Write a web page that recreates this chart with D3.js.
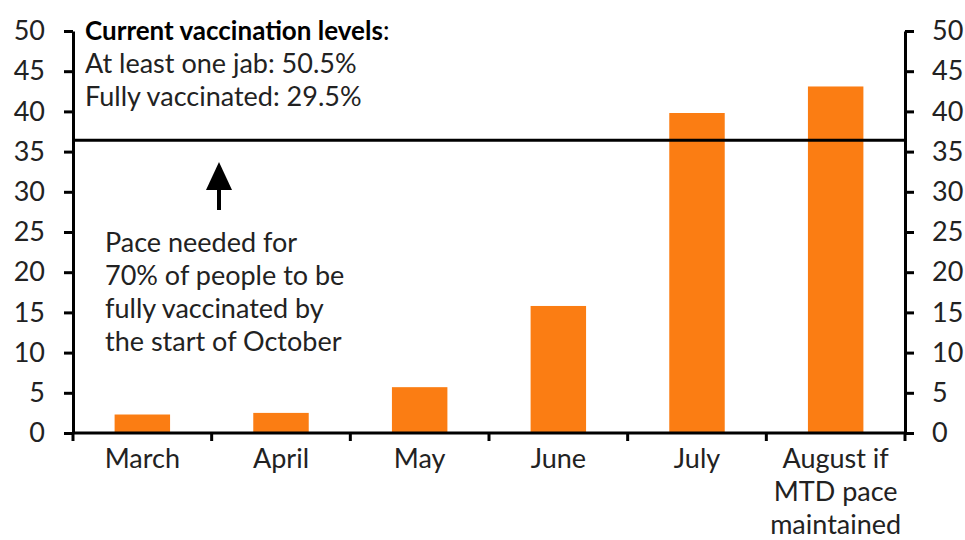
<!DOCTYPE html>
<html><head><meta charset="utf-8">
<script src="https://cdn.jsdelivr.net/npm/d3@7"></script>
<style>body{margin:0;background:#fff;} svg{display:block;} text{font-family:Lato, "Open Sans", sans-serif;}</style>
</head><body>
<svg id="c" width="965" height="540"></svg>
<script>
const categories = ["March","April","May","June","July","August if\nMTD pace\nmaintained"];
const values = [2.3, 2.5, 5.7, 15.8, 39.8, 43.1];
const yTicks = [0,5,10,15,20,25,30,35,40,45,50];
const paceNeeded = 36.4;
const noteTitle = "Current vaccination levels";
const noteLines = ["At least one jab: 50.5%","Fully vaccinated: 29.5%"];
const paceLines = ["Pace needed for","70% of people to be","fully vaccinated by","the start of October"];

const svg = d3.select("#c");
const m = {l:73, r:905, t:31, b:433};
const x = d3.scaleBand().domain(categories).range([m.l, m.r]).paddingInner(0.6).paddingOuter(0.3);
const y = d3.scaleLinear().domain([0,50]).range([m.b, m.t]);
const textCol = "#222";
const fs = 27;
const ff = "Lato";

// bars
svg.append("g").selectAll("rect").data(values).join("rect")
  .attr("x",(d,i)=>x(categories[i])).attr("width",x.bandwidth())
  .attr("y",d=>y(d)).attr("height",d=>y(0)-y(d)).attr("fill","#fb7d13");

// y axes
const gl = svg.append("g").attr("transform",`translate(${m.l},0)`)
  .call(d3.axisLeft(y).tickValues(yTicks).tickSize(9).tickPadding(19).tickSizeOuter(0));
const gr = svg.append("g").attr("transform",`translate(${m.r},0)`)
  .call(d3.axisRight(y).tickValues(yTicks).tickSize(9).tickPadding(18).tickSizeOuter(0));
[gl,gr].forEach(g=>{
  g.selectAll("path.domain").attr("stroke","#000").attr("stroke-width",3);
  g.selectAll(".tick line").attr("stroke","#000").attr("stroke-width",3);
  g.selectAll(".tick text").attr("font-size",fs).attr("fill",textCol).attr("font-family",ff);
});

// x axis
const xb = d3.scaleLinear().domain([0,categories.length]).range([m.l,m.r]);
const gx = svg.append("g");
gx.append("line").attr("x1",m.l-1).attr("x2",m.r+1).attr("y1",m.b).attr("y2",m.b).attr("stroke","#000").attr("stroke-width",3);
gx.selectAll("line.t").data(d3.range(categories.length+1)).join("line").attr("class","t")
  .attr("x1",d=>xb(d)).attr("x2",d=>xb(d)).attr("y1",m.b).attr("y2",m.b+8).attr("stroke","#000").attr("stroke-width",3);
gx.selectAll("text").data(categories).join("text")
  .attr("x",d=>x(d)+x.bandwidth()/2).attr("y",468).attr("text-anchor","middle")
  .attr("font-size",fs).attr("fill",textCol)
  .each(function(d){
    const lines=d.split("\n");
    d3.select(this).selectAll("tspan").data(lines).join("tspan")
      .attr("x",x(d)+x.bandwidth()/2).attr("dy",(l,i)=>i?33:0).text(l=>l);
  });

// pace line
svg.append("line").attr("x1",m.l).attr("x2",m.r).attr("y1",y(paceNeeded)).attr("y2",y(paceNeeded))
  .attr("stroke","#000").attr("stroke-width",3);

// arrow
svg.append("line").attr("x1",219).attr("x2",219).attr("y1",210).attr("y2",185).attr("stroke","#000").attr("stroke-width",4);
svg.append("path").attr("d","M219,162 L206,190 L232,190 Z").attr("fill","#000");

// notes
const t1 = svg.append("text").attr("x",85).attr("y",40).attr("font-size",26).attr("fill","#000");
t1.append("tspan").attr("font-weight","bold").text(noteTitle);
t1.append("tspan").text(":");
svg.selectAll("text.n").data(noteLines).join("text").attr("class","n")
  .attr("x",85).attr("y",(d,i)=>73+i*33).attr("font-size",fs).attr("fill",textCol).text(d=>d);
svg.selectAll("text.p").data(paceLines).join("text").attr("class","p")
  .attr("x",105).attr("y",(d,i)=>252+i*33).attr("font-size",fs).attr("fill",textCol).text(d=>d);
</script>
</body></html>
